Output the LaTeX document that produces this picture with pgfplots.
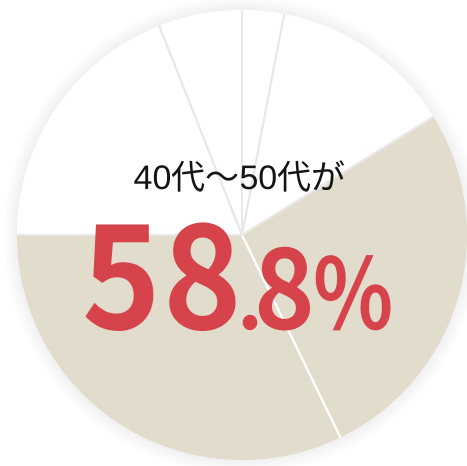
\documentclass[border=0pt]{standalone}
\usepackage{pgfplots}
\pgfplotsset{compat=1.18}
\usepackage{pgfplotstable}
\usepackage{fontspec}
\setmainfont{Noto Sans CJK JP}
\newfontfamily\jp{Noto Sans CJK JP}
\newfontfamily\jpb{Noto Sans CJK JP Bold}
\newfontfamily\lat{Liberation Sans}

\definecolor{pieb}{RGB}{226,220,204}
\definecolor{piew}{RGB}{255,255,255}
\definecolor{sepg}{RGB}{232,232,232}
\definecolor{sepw}{RGB}{255,255,255}
\definecolor{numred}{RGB}{214,67,75}
\definecolor{txt}{RGB}{20,20,20}

% age groups, share in percent, clockwise from 12 o'clock
\pgfplotstableread{
share fill edge
3.0  piew sepg
13.2 piew sepg
26.6 pieb sepg
32.2 pieb sepw
19.0 piew sepg
6.0  piew sepg
}\piedata

\newsavebox\gA \newsavebox\gB \newsavebox\gC \newsavebox\gD \newsavebox\gE
\newlength\kA \newlength\kB \newlength\kC \newlength\kD \newlength\shA

\begin{document}%
% glyphs of the big number, placed by their centres
\sbox\gA{\color{numred}\jpb\fontsize{145bp}{145bp}\selectfont\scalebox{0.92}[1]{5}}%
\sbox\gB{\color{numred}\jpb\fontsize{145bp}{145bp}\selectfont\scalebox{0.92}[1]{8}}%
\sbox\gC{\color{numred}\jpb\fontsize{80bp}{80bp}\selectfont .}%
\sbox\gD{\color{numred}\jpb\fontsize{112bp}{112bp}\selectfont\scalebox{0.92}[1]{8}}%
\sbox\gE{\color{numred}\jpb\fontsize{98bp}{98bp}\selectfont\scalebox{0.85}[1]{\%}}%
\setlength\shA{-0.5\wd\gA}%
\setlength\kA{\dimexpr 80.5bp-(\wd\gA+\wd\gB)/2\relax}%
\setlength\kB{\dimexpr 47.5bp-(\wd\gB+\wd\gC)/2\relax}%
\setlength\kC{\dimexpr 35bp-(\wd\gC+\wd\gD)/2\relax}%
\setlength\kD{\dimexpr 68.5bp-(\wd\gD+\wd\gE)/2\relax}%
\begin{tikzpicture}
% start/end angles of each slice
\def\cum{0}
\foreach \i in {0,...,5} {
  \pgfplotstablegetelem{\i}{share}\of\piedata
  \pgfmathsetmacro\sa{90-3.6*\cum}
  \pgfmathsetmacro\newcum{\cum+\pgfplotsretval}
  \pgfmathsetmacro\sb{90-3.6*\newcum}
  \expandafter\xdef\csname sa\i\endcsname{\sa}
  \expandafter\xdef\csname sb\i\endcsname{\sb}
  \xdef\cum{\newcum}
  \pgfplotstablegetelem{\i}{fill}\of\piedata
  \expandafter\xdef\csname sf\i\endcsname{\pgfplotsretval}
  \pgfplotstablegetelem{\i}{edge}\of\piedata
  \expandafter\xdef\csname se\i\endcsname{\pgfplotsretval}
}
\begin{axis}[
  scale only axis,
  width=467bp, height=466bp,
  xmin=0, xmax=467, ymin=0, ymax=466,
  hide axis,
]
% soft shadow
\pgfplotsinvokeforeach{1,...,14}{
  \fill[black, opacity=0.0055] (axis cs:242,231) circle[radius=225bp+#1bp];
}
% slices
\pgfplotsinvokeforeach{0,...,5}{
  \fill[fill=\csname sf#1\endcsname] (axis cs:242,231) -- ++(\csname sa#1\endcsname:225bp)
    arc[start angle=\csname sa#1\endcsname, end angle=\csname sb#1\endcsname, radius=225bp] -- cycle;
}
% separators
\pgfplotsinvokeforeach{0,...,5}{
  \draw[\csname se#1\endcsname, line width=2.2bp] (axis cs:242,231) -- ++(\csname sa#1\endcsname:225bp);
}
\node[anchor=base, inner sep=0, text=txt, font=\jp\fontsize{34bp}{34bp}\selectfont]
  at (axis cs:239.5,276) {{\lat 40}代〜{\lat 50}代が};
\node[anchor=base west, inner sep=0, text=numred, xshift=\shA] at (axis cs:122,136)
  {\usebox\gA\kern\kA\usebox\gB\kern\kB\usebox\gC\kern\kC\usebox\gD\kern\kD\usebox\gE};
\end{axis}
\pgfresetboundingbox
\path (0,0) rectangle (467bp,466bp);
\end{tikzpicture}
\end{document}
